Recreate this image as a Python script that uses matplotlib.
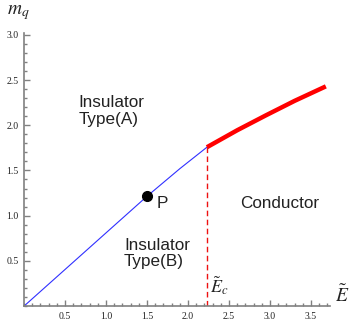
import numpy as np
import matplotlib
matplotlib.use('Agg')
import matplotlib.pyplot as plt
from matplotlib.ticker import MultipleLocator

plt.rcParams['mathtext.fontset'] = 'stix'

# Insulator branch (blue) and conductor branch (red)
e_ins = [0.0, 0.5, 1.0, 1.5, 1.9, 2.23]
m_ins = [0.0, 0.405, 0.81, 1.215, 1.52, 1.757]
e_con = [2.23, 2.6, 2.95, 3.3, 3.68]
m_con = [1.757, 1.945, 2.11, 2.27, 2.43]
e_crit = 2.23
m_crit = 1.757
p_point = (1.5, 1.215)

xticks = [0.5, 1.0, 1.5, 2.0, 2.5, 3.0, 3.5]
yticks = [0.5, 1.0, 1.5, 2.0, 2.5, 3.0]

fig = plt.figure(figsize=(3.54, 3.27), dpi=100)
ax = fig.add_axes([0.068, 0.064, 0.864, 0.835])

ax.plot(e_ins, m_ins, color='#3030ff', lw=0.8)
ax.plot(e_con, m_con, color='#ff0000', lw=3.2, solid_capstyle='butt')
ax.plot([e_crit, e_crit], [0, m_crit], color='#ee1111', lw=1.0,
        linestyle=(0, (4, 2.5)))
ax.plot(*p_point, 'o', color='black', ms=7)

tf = dict(family='Liberation Sans', fontsize=12.3, color='#222222')
ax.text(0.66, 2.33, 'Insulator\nType(A)', va='top', ha='left', linespacing=1.1, **tf)
ax.text(1.22, 0.75, 'Insulator\nType(B)', va='top', ha='left', linespacing=1.1, **tf)
ax.text(2.63, 1.13, 'Conductor', va='center', ha='left', **tf)
ax.text(1.62, 1.13, 'P', va='center', ha='left', **tf)
ax.text(2.27, 0.15, r'$\tilde{E}_c$', fontsize=13, color='#222222')

fig.text(0.945, 0.075, r'$\tilde{E}$', fontsize=14, color='#222222')
fig.text(0.02, 0.955, r'$m_q$', fontsize=14, color='#222222')

ax.set_xlim(0, 3.73)
ax.set_ylim(0, 3.02)
for s in ['top', 'right']:
    ax.spines[s].set_visible(False)
for s in ['left', 'bottom']:
    ax.spines[s].set_color('#808080')
    ax.spines[s].set_linewidth(1.2)

ax.set_xticks(xticks)
ax.set_yticks(yticks)
ax.set_xticklabels([f'{v:.1f}' for v in xticks], family='Liberation Serif')
ax.set_yticklabels([f'{v:.1f}' for v in yticks], family='Liberation Serif')
ax.xaxis.set_minor_locator(MultipleLocator(0.1))
ax.yaxis.set_minor_locator(MultipleLocator(0.1))
ax.tick_params(which='both', direction='in', color='#808080', width=1,
               labelsize=7, labelcolor='#222222', pad=4)
ax.tick_params(which='major', length=4)
ax.tick_params(which='minor', length=2.5)

fig.savefig('out.png', dpi=100)
